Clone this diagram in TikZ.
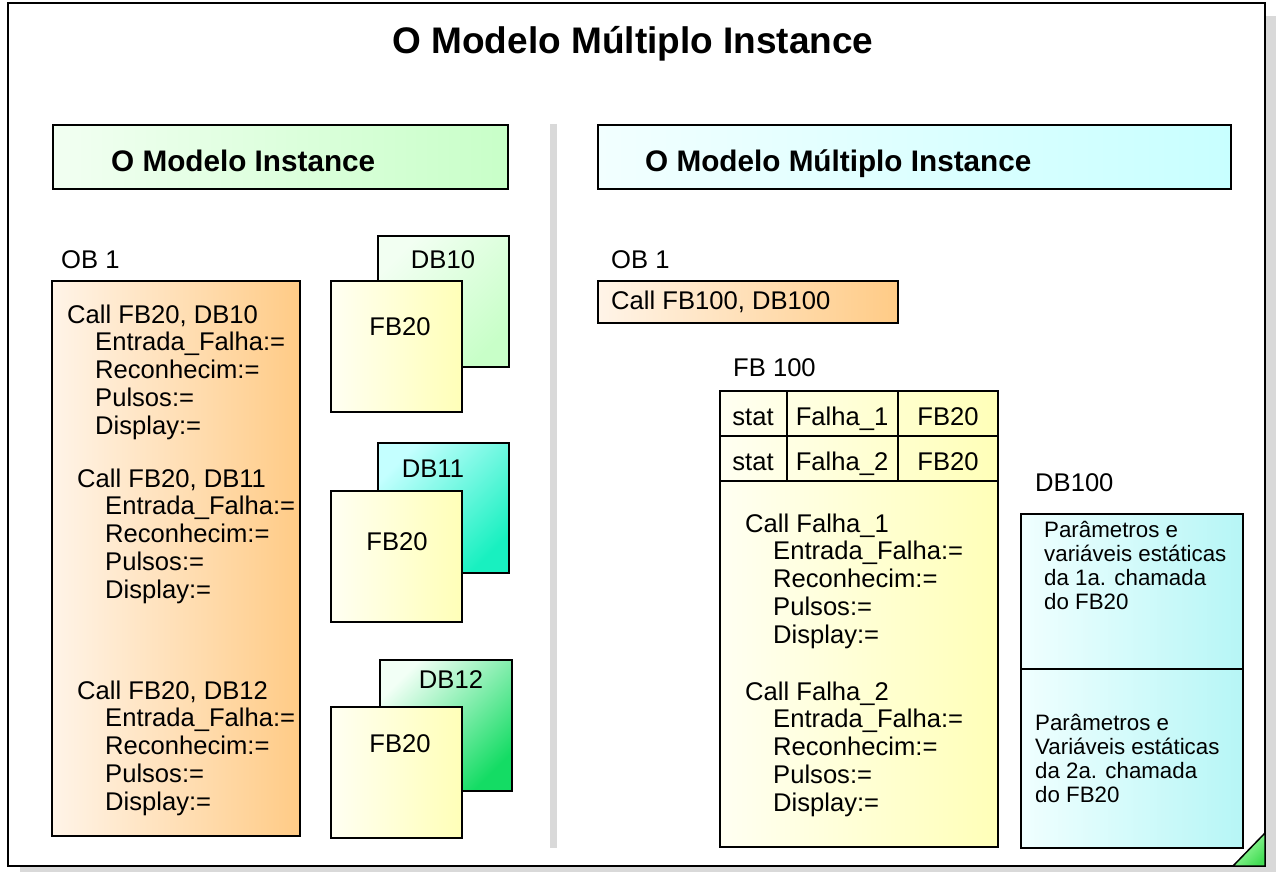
\documentclass[tikz,border=0pt]{standalone}
\usepackage{fontspec}
\setmainfont{Liberation Sans}

\definecolor{shadowgray}{HTML}{D9D9D9}
\definecolor{peachL}{HTML}{FFF4E8}
\definecolor{peachR}{HTML}{FFCB86}
\definecolor{yelL}{HTML}{FFFFF2}
\definecolor{yelR}{HTML}{FFFFB8}
\definecolor{mintL}{HTML}{F2FFF2}
\definecolor{mintR}{HTML}{C8FFC8}
\definecolor{aquaL}{HTML}{F2FFFF}
\definecolor{aquaR}{HTML}{C8FFFF}
\definecolor{dbelevenL}{HTML}{C4FFFF}
\definecolor{dbelevenR}{HTML}{18F0C0}
\definecolor{dbtwelveL}{HTML}{F2FFF6}
\definecolor{dbtwelveR}{HTML}{14DC64}
\definecolor{dbhundredL}{HTML}{F0FFFF}
\definecolor{dbhundredR}{HTML}{B6F6F6}
\definecolor{cornerL}{HTML}{B0FFB0}
\definecolor{cornerR}{HTML}{44DD55}

\begin{document}
\begin{tikzpicture}[x=1pt,y=-1pt,
  box/.style={draw=black, line width=1.8pt},
  txt/.style={inner sep=0pt, anchor=base west, font=\fontsize{25.6}{30}\selectfont},
  ctxt/.style={inner sep=0pt, anchor=base, font=\fontsize{25.6}{30}\selectfont},
  stxt/.style={inner sep=0pt, anchor=base west, font=\fontsize{22.3}{26}\selectfont},
  hdr/.style={inner sep=0pt, anchor=base west, font=\fontsize{29.7}{34}\selectfont\bfseries},
  ttl/.style={inner sep=0pt, anchor=base, font=\fontsize{37}{42}\selectfont\bfseries}]
\useasboundingbox (0,0) rectangle (1276,872);

% page frame with drop shadow
\fill[shadowgray] (20,16) rectangle (1276,872);
\draw[line width=2.5pt, fill=white] (8,3) rectangle (1265,866);
\draw[line width=1.5pt, top color=cornerL, bottom color=cornerR, shading angle=45]
  (1233,866) -- (1265,833) -- (1265,866) -- cycle;

% title
\node[ttl] (title) at (633,54) {O Modelo Múltiplo Instance};

% divider between the two halves
\draw[shadowgray, line width=7pt] (553,124) -- (553,848);

% section headers
\draw[box, left color=mintL, right color=mintR] (53,125) rectangle (508,189);
\node[hdr] (hdrL) at (111,171) {O Modelo Instance};
\draw[box, left color=aquaL, right color=aquaR] (598,125) rectangle (1231,189);
\node[hdr] (hdrR) at (645,171) {O Modelo Múltiplo Instance};

% ---------- left: single instances ----------
\node[txt] (ob1L) at (61,268) {OB 1};
\draw[box, left color=peachL, right color=peachR] (52,281) rectangle (300,836);

\node[txt] (callA) at (67,323) {Call FB20, DB10};
\foreach \t [count=\i] in {Entrada\_Falha:=, Reconhecim:=, Pulsos:=, Display:=}
  \node[txt] (parA-\i) at (95,{323+27.9*\i}) {\t};

\node[txt] (callB) at (77,487) {Call FB20, DB11};
\foreach \t [count=\i] in {Entrada\_Falha:=, Reconhecim:=, Pulsos:=, Display:=}
  \node[txt] (parB-\i) at (105,{487+27.9*\i}) {\t};

\node[txt] (callC) at (77,699) {Call FB20, DB12};
\foreach \t [count=\i] in {Entrada\_Falha:=, Reconhecim:=, Pulsos:=, Display:=}
  \node[txt] (parC-\i) at (105,{699+27.9*\i}) {\t};

% instance data blocks behind the function blocks
\draw[box, top color=mintL, bottom color=mintR, shading angle=45] (378,236) rectangle (509,367);
\node[ctxt] (db10) at (443,268) {DB10};
\draw[box, left color=yelL, right color=yelR] (331,281) rectangle (462,412);
\node[ctxt] (fbA) at (400,335) {FB20};

\draw[box, top color=dbelevenL, bottom color=dbelevenR, shading angle=45] (378,443) rectangle (509,573);
\node[ctxt] (db11) at (433,477) {DB11};
\draw[box, left color=yelL, right color=yelR] (331,491) rectangle (462,622);
\node[ctxt] (fbB) at (397,550) {FB20};

\draw[box, top color=dbtwelveL, bottom color=dbtwelveR, shading angle=45] (380,660) rectangle (512,791);
\node[ctxt] (db12) at (451,688) {DB12};
\draw[box, left color=yelL, right color=yelR] (331,707) rectangle (462,838);
\node[ctxt] (fbC) at (400,752) {FB20};

% ---------- right: multiple instance ----------
\node[txt] (ob1R) at (611,268) {OB 1};
\draw[box, left color=peachL, right color=peachR] (598,281) rectangle (898,323);
\node[txt] (callM) at (611,309) {Call FB100, DB100};

\node[txt] (fb100) at (733,376) {FB 100};
\draw[box, left color=yelL, right color=yelR] (720,391) rectangle (998,847);
\draw[box] (720,436) -- (998,436);
\draw[box] (720,481) -- (998,481);
\draw[box] (787,391) -- (787,481);
\draw[box] (898,391) -- (898,481);
\node[ctxt] (s1) at (753,425) {stat};
\node[ctxt] (f1) at (842,425) {Falha\_1};
\node[ctxt] (t1) at (948,425) {FB20};
\node[ctxt] (s2) at (753,470) {stat};
\node[ctxt] (f2) at (842,470) {Falha\_2};
\node[ctxt] (t2) at (948,470) {FB20};

\node[txt] (callF1) at (745,532) {Call Falha\_1};
\foreach \t [count=\i] in {Entrada\_Falha:=, Reconhecim:=, Pulsos:=, Display:=}
  \node[txt] (parD-\i) at (773,{532+27.9*\i}) {\t};
\node[txt] (callF2) at (745,700) {Call Falha\_2};
\foreach \t [count=\i] in {Entrada\_Falha:=, Reconhecim:=, Pulsos:=, Display:=}
  \node[txt] (parE-\i) at (773,{700+27.9*\i}) {\t};

\node[txt] (db100) at (1035,491) {DB100};
\draw[box, left color=dbhundredL, right color=dbhundredR] (1021,514) rectangle (1243,848);
\draw[box] (1021,669) -- (1243,669);
\foreach \t [count=\i] in {Parâmetros e, variáveis estáticas, da 1a. chamada, do FB20}
  \node[stxt] (dbA-\i) at (1044,{537+24.3*(\i-1)}) {\t};
\foreach \t [count=\i] in {Parâmetros e, Variáveis estáticas, da 2a. chamada, do FB20}
  \node[stxt] (dbB-\i) at (1035,{730+24.3*(\i-1)}) {\t};
\end{tikzpicture}
\end{document}
